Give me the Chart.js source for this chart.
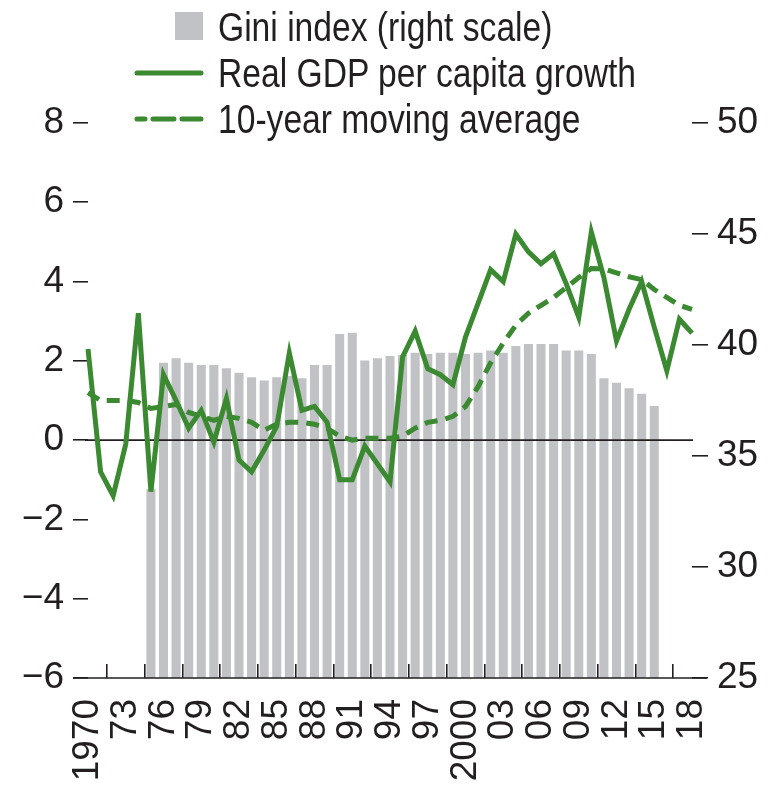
<!DOCTYPE html>
<html lang="en">
<head>
<meta charset="UTF-8">
<title>Gini index and real GDP per capita growth</title>
<script src="https://cdn.jsdelivr.net/npm/chart.js"></script>
<style>
    body { margin: 0; background: #fff; }
    #wrap { position: relative; width: 783px; height: 786px; }
    #legend { position: absolute; left: 0; top: 0; width: 783px; height: 150px;
              font-family: 'Liberation Sans', Arial, sans-serif;
              font-size: 41px; color: #231f20; pointer-events: none; }
    .legItem { position: absolute; left: 218px; height: 46px; line-height: 46px; white-space: nowrap; }
    .legItem svg { position: absolute; top: 0; }
    .legItem span { display: inline-block; transform: scaleX(0.82); transform-origin: left center; }
</style>
</head>
<body>
<div id="wrap">
    <canvas id="chart" width="783" height="786"></canvas>
    <div id="legend"></div>
</div>

<script>
    const years = [1970, 1971, 1972, 1973, 1974, 1975, 1976, 1977, 1978, 1979,
        1980, 1981, 1982, 1983, 1984, 1985, 1986, 1987, 1988, 1989,
        1990, 1991, 1992, 1993, 1994, 1995, 1996, 1997, 1998, 1999,
        2000, 2001, 2002, 2003, 2004, 2005, 2006, 2007, 2008, 2009,
        2010, 2011, 2012, 2013, 2014, 2015, 2016, 2017, 2018]

    // real GDP per capita growth, percent (left scale)
    const gdpGrowth = [2.3, -0.8, -1.4, -0.1, 3.2, -1.3, 1.65, 1.0, 0.3, 0.75,
        -0.05, 1.05, -0.5, -0.8, -0.25, 0.35, 2.2, 0.75, 0.85, 0.45,
        -1.0, -1.0, -0.15, -0.6, -1.05, 2.1, 2.75, 1.8, 1.65, 1.4,
        2.6, 3.45, 4.3, 4.0, 5.2, 4.75, 4.45, 4.7, 3.95, 3.1,
        5.25, 4.1, 2.5, 3.3, 4.0, 2.85, 1.75, 3.05, 2.7]

    // 10-year moving average of the growth rate
    const movingAvg = [1.2, 1.0, 1.0, 1.0, 0.95, 0.8, 0.85, 0.9, 0.7, 0.6,
        0.5, 0.6, 0.55, 0.45, 0.25, 0.4, 0.45, 0.45, 0.4, 0.3,
        0.1, 0.0, 0.05, 0.05, 0.05, 0.1, 0.3, 0.45, 0.5, 0.6,
        0.85, 1.35, 1.95, 2.45, 2.9, 3.2, 3.4, 3.6, 3.85, 4.1,
        4.33, 4.32, 4.22, 4.12, 4.05, 3.8, 3.6, 3.4, 3.3]

    // Gini index (right scale), 1975-2015
    const giniYears = years.slice(5, 46)
    const gini = [33.5, 39.2, 39.4, 39.2, 39.1, 39.1, 38.95, 38.75, 38.55, 38.4,
        38.55, 38.6, 38.5, 39.1, 39.1, 40.5, 40.55, 39.3, 39.4, 39.5,
        39.55, 39.65, 39.6, 39.65, 39.65, 39.6, 39.65, 39.75, 39.65, 39.95,
        40.05, 40.05, 40.05, 39.75, 39.75, 39.6, 38.5, 38.3, 38.05, 37.8,
        37.25]

    const leftTicks = [-6, -4, -2, 0, 2, 4, 6, 8]
    const rightTicks = [25, 30, 35, 40, 45, 50]

    const green = '#3b8a31'
    const grey = '#c1c2c6'
    const ink = '#231f20'
    const fontFamily = "'Liberation Sans', Arial, sans-serif"

    function pares(xs, ys) {
        return xs.map((x, i) => ({ x: x, y: ys[i] }))
    }

    function menos(v) {
        return String(v).replace('-', '\u2212')
    }

    // linha do zero por cima das barras e eixo horizontal mais comprido
    const linhasExtras = {
        id: 'linhasExtras',
        afterDatasetDraw(chart, args) {
            if (args.index !== 0) return
            const { ctx, chartArea } = chart
            const y0 = chart.scales.y.getPixelForValue(0)
            ctx.save()
            ctx.strokeStyle = ink
            ctx.lineWidth = 1.6
            ctx.beginPath()
            ctx.moveTo(chartArea.left - 3, y0)
            ctx.lineTo(chartArea.right + 1, y0)
            ctx.stroke()
            ctx.restore()
        },
        afterDraw(chart) {
            const { ctx, chartArea } = chart
            ctx.save()
            ctx.strokeStyle = ink
            ctx.lineWidth = 1.6
            ctx.beginPath()
            ctx.moveTo(chartArea.left - 15, chartArea.bottom)
            ctx.lineTo(chartArea.right + 15, chartArea.bottom)
            ctx.stroke()
            ctx.restore()
        }
    }

    const chart = new Chart(document.getElementById('chart'), {
        type: 'bar',
        data: {
            datasets: [{
                label: 'Gini index (right scale)',
                data: pares(giniYears, gini),
                yAxisID: 'y2',
                backgroundColor: grey,
                borderWidth: 0,
                barPercentage: 0.72,
                categoryPercentage: 1,
                order: 3
            }, {
                type: 'line',
                label: 'Real GDP per capita growth',
                data: pares(years, gdpGrowth),
                yAxisID: 'y',
                borderColor: green,
                borderWidth: 5,
                pointRadius: 0,
                tension: 0,
                clip: false,
                order: 2
            }, {
                type: 'line',
                label: '10-year moving average',
                data: pares(years, movingAvg),
                yAxisID: 'y',
                borderColor: green,
                borderWidth: 5,
                borderDash: [13, 8],
                pointRadius: 0,
                tension: 0,
                clip: false,
                order: 1
            }]
        },
        options: {
            responsive: false,
            animation: false,
            layout: { padding: { top: 123, left: 0, right: 0, bottom: 0 } },
            plugins: {
                legend: { display: false },
                tooltip: { enabled: false }
            },
            scales: {
                x: {
                    type: 'linear',
                    min: years[0],
                    max: years[years.length - 1],
                    offset: false,
                    border: { display: false },
                    grid: { drawOnChartArea: false, tickLength: -14, tickColor: ink, lineWidth: 1.6 },
                    ticks: {
                        stepSize: 3,
                        autoSkip: false,
                        maxRotation: 90,
                        minRotation: 90,
                        padding: 35,
                        color: ink,
                        font: { family: fontFamily, size: 37 },
                        callback: v => (v === 1970 || v === 2000) ? String(v) : String(v).slice(2)
                    },
                    afterFit: s => { s.height = 108 }
                },
                y: {
                    position: 'left',
                    min: -6,
                    max: 8,
                    border: { display: false },
                    grid: { drawOnChartArea: false, tickLength: 15, tickColor: ink, lineWidth: 1.6 },
                    afterBuildTicks: s => { s.ticks = leftTicks.map(v => ({ value: v })) },
                    ticks: {
                        padding: 9,
                        color: ink,
                        font: { family: fontFamily, size: 37 },
                        callback: v => menos(v)
                    },
                    afterFit: s => { s.width = 88 }
                },
                y2: {
                    position: 'right',
                    min: 25,
                    max: 50,
                    border: { display: false },
                    grid: { drawOnChartArea: false, tickLength: 16, tickColor: ink, lineWidth: 1.6 },
                    afterBuildTicks: s => { s.ticks = rightTicks.map(v => ({ value: v })) },
                    ticks: {
                        padding: 9,
                        color: ink,
                        font: { family: fontFamily, size: 37 },
                        callback: v => String(v)
                    },
                    afterFit: s => { s.width = 91 }
                }
            }
        },
        plugins: [linhasExtras]
    })

    // legenda em HTML, empilhada e alinhada pelo texto
    const legenda = document.getElementById('legend')
    chart.data.datasets.forEach((ds, i) => {
        const item = document.createElement('div')
        item.className = 'legItem'
        item.style.top = (4 + i * 46) + 'px'
        let amostra
        if (ds.type === 'line') {
            const dash = ds.borderDash ? 'stroke-dasharray="21 8" stroke-dashoffset="13"' : ''
            amostra = `<svg width="72" height="46" style="left:-84px"><line x1="3" y1="23" x2="67" y2="23" stroke="${ds.borderColor}" stroke-width="5" stroke-linecap="round" ${dash}/></svg>`
        } else {
            amostra = `<svg width="28" height="46" style="left:-43px"><rect x="0" y="8" width="28" height="28" fill="${ds.backgroundColor}"/></svg>`
        }
        item.innerHTML = amostra + `<span>${ds.label}</span>`
        legenda.appendChild(item)
    })
</script>
</body>
</html>
